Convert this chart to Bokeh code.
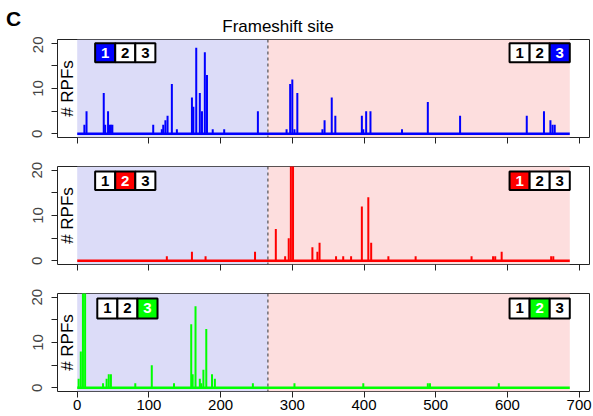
import math
from bokeh.plotting import figure
from bokeh.models import Range1d, BoxAnnotation, Span, Label, FixedTicker, ColumnDataSource, Div
from bokeh.layouts import column
from bokeh.embed import file_html
from bokeh.resources import INLINE
from bokeh.core.properties import value

# ---------------- data ----------------
seq_length = 687
frameshift_site = 266

frame1_pos = [10, 13, 37, 39, 43, 45, 47, 49, 106, 118, 120, 123, 126, 132, 139,
              160, 162, 166, 171, 174, 178, 181, 189, 205, 252,
              292, 297, 300, 303, 307, 342, 345, 355, 360, 397, 399, 403, 409,
              453, 489, 534, 627, 651, 660, 663, 666]
frame1_rpf = [2, 5, 9, 2, 5, 2, 2, 2, 2, 1, 2, 3, 4, 11, 1,
              8, 6, 19, 9, 5, 18, 13, 1, 1, 5,
              1, 11, 12, 1, 9, 1, 3, 8, 4, 4, 1, 5, 5,
              1, 7, 4, 4, 5, 3, 2, 2]

frame2_pos = [125, 160, 179, 248, 277, 290, 295, 298, 301, 328, 335, 338,
              361, 371, 382, 397, 406, 410, 434, 472, 550, 580, 583, 592, 661, 664]
frame2_rpf = [1, 2, 1, 2, 7, 1, 5, 38, 45, 3, 2, 4,
              1, 1, 1, 12, 14, 4, 1, 1, 1, 1, 1, 2, 1, 1]

frame3_pos = [2, 5, 8, 11, 36, 41, 44, 47, 81, 104, 135, 159, 161, 165, 171,
              173, 176, 180, 188, 192, 245, 303, 399, 489, 492, 588]
frame3_rpf = [2, 8, 30, 34, 1, 2, 3, 3, 1, 5, 1, 14, 3, 18, 2,
              1, 4, 13, 3, 2, 1, 1, 1, 1, 1, 1]

x_ticks = [0, 100, 200, 300, 400, 500, 600, 700]
y_major_ticks = [0, 10, 20]
y_minor_ticks = [5, 15]

frame_names = ["1", "2", "3"]
series_colors = ["#0000FF", "#FF0000", "#00FF00"]
left_highlight = [0, 1, 2]    # highlighted box of the left (upstream) legend
right_highlight = [2, 0, 1]   # highlighted box of the right (downstream) legend

FONT = "Liberation Sans"
BLUE_BG = "#DCDCF8"
RED_BG = "#FDDEDE"
FIG_W = 592


def make_panel(idx, pos, rpf, top_border, bottom_border, show_xlabels,
               legend_left_x, legend_y):
    color = series_colors[idx]
    frame_h = 98
    h = top_border + frame_h + bottom_border
    p = figure(width=FIG_W, height=h, output_backend="svg", toolbar_location=None,
               x_range=Range1d(-27.5, 714.5), y_range=Range1d(-0.8, 20.8),
               min_border_left=57, min_border_right=3,
               min_border_top=top_border, min_border_bottom=bottom_border)
    p.xgrid.visible = False
    p.ygrid.visible = False
    p.outline_line_color = "#222222"
    p.outline_line_width = 1
    p.background_fill_color = "white"
    p.border_fill_color = "white"

    # shaded regions
    p.add_layout(BoxAnnotation(left=0, right=frameshift_site, fill_color=BLUE_BG,
                               fill_alpha=1, line_color=None, level="underlay"))
    p.add_layout(BoxAnnotation(left=frameshift_site, right=seq_length, fill_color=RED_BG,
                               fill_alpha=1, line_color=None, level="underlay"))

    # baseline and bars
    p.segment(x0=[0], y0=[0], x1=[seq_length], y1=[0], line_color=color, line_width=2.5)
    src = ColumnDataSource(dict(pos=pos, rpf=rpf))
    p.segment(x0="pos", y0=0, x1="pos", y1="rpf", source=src,
              line_color=color, line_width=2, line_cap="butt")

    # frameshift line
    p.add_layout(Span(location=frameshift_site, dimension="height", line_color="#333333",
                      line_dash="3 3", line_width=1))

    # frame legends
    box_w = 28
    for start, hi in ((legend_left_x, left_highlight[idx]), (603, right_highlight[idx])):
        lefts = [start + k * box_w for k in range(3)]
        rights = [l + box_w for l in lefts]
        fills = [color if k == hi else "white" for k in range(3)]
        tcols = ["white" if k == hi else "black" for k in range(3)]
        p.quad(left=lefts, right=rights, bottom=legend_y[0], top=legend_y[1],
               fill_color=fills, line_color="black", line_width=2)
        p.text(x=[l + box_w / 2 for l in lefts], y=[(legend_y[0] + legend_y[1]) / 2] * 3,
               text=frame_names, text_color=tcols, text_font=value(FONT),
               text_font_style="bold", text_font_size="15px",
               text_align="center", text_baseline="middle")

    # y label inside frame
    p.add_layout(Label(x=-14, y=10, text="# RPFs", angle=math.pi / 2,
                       text_align="center", text_baseline="middle",
                       text_font=FONT, text_font_size="17px", text_color="black"))

    # axes
    p.xaxis.ticker = FixedTicker(ticks=x_ticks)
    p.xaxis.minor_tick_line_color = None
    p.xaxis.major_tick_out = 6
    p.xaxis.major_tick_in = 0
    p.xaxis.axis_line_color = None
    p.xaxis.major_tick_line_color = "#222222"
    p.xaxis.major_label_text_font = FONT
    p.xaxis.major_label_standoff = 2
    if show_xlabels:
        p.xaxis.major_label_text_font_size = "15px"
        p.xaxis.major_label_text_color = "black"
    else:
        p.xaxis.major_label_text_font_size = "2px"
        p.xaxis.major_label_text_color = None

    p.yaxis.ticker = FixedTicker(ticks=y_major_ticks, minor_ticks=y_minor_ticks)
    p.yaxis.minor_tick_out = 6
    p.yaxis.minor_tick_in = 0
    p.yaxis.minor_tick_line_color = "#222222"
    p.yaxis.major_tick_out = 6
    p.yaxis.major_tick_in = 0
    p.yaxis.axis_line_color = None
    p.yaxis.major_tick_line_color = "#222222"
    p.yaxis.major_label_orientation = "vertical"
    p.yaxis.major_label_text_font = FONT
    p.yaxis.major_label_text_font_size = "15px"
    p.yaxis.major_label_standoff = 9
    return p


header = Div(
    text=('<div style="position:relative;width:592px;height:36px;'
          'font-family:\'Liberation Sans\',Arial,sans-serif;color:black;">'
          '<span style="position:absolute;left:6px;top:8px;font-size:21px;'
          'font-weight:bold;line-height:21px;">C</span>'
          '<span style="position:absolute;left:178px;top:18px;width:200px;'
          'text-align:center;font-size:17px;line-height:17px;">Frameshift site</span>'
          '</div>'),
    width=FIG_W, height=36, margin=0)

p1 = make_panel(0, frame1_pos, frame1_rpf, 3, 15, False, 25, (15.8, 20.0))
p2 = make_panel(1, frame2_pos, frame2_rpf, 14, 15, False, 25, (15.6, 19.7))
p3 = make_panel(2, frame3_pos, frame3_rpf, 14, 25, True, 28, (15.3, 19.7))

layout = column(header, p1, p2, p3, spacing=0)
open("out.html", "w").write(file_html(layout, INLINE))
